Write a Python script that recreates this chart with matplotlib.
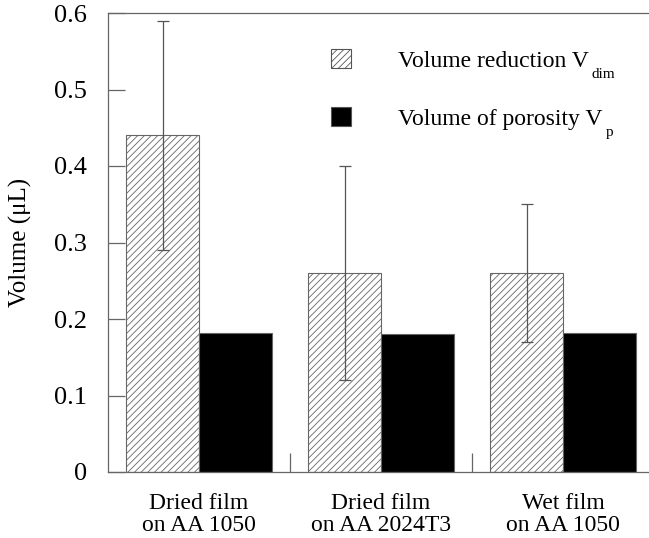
import numpy as np
import matplotlib
matplotlib.use('Agg')
import matplotlib.pyplot as plt
from matplotlib.patches import Patch

plt.rcParams['font.family'] = ['Liberation Serif', 'DejaVu Serif']
plt.rcParams['hatch.linewidth'] = 0.6
plt.rcParams['hatch.color'] = '#555555'

# --- data ---
categories = ['Dried film\non AA 1050', 'Dried film\non AA 2024T3', 'Wet film\non AA 1050']
v_dim = [0.44, 0.26, 0.26]
v_dim_err = [0.15, 0.14, 0.09]
v_p = [0.182, 0.181, 0.182]
y_ticks = [0, 0.1, 0.2, 0.3, 0.4, 0.5, 0.6]
y_ticklabels = ['0', '0.1', '0.2', '0.3', '0.4', '0.5', '0.6']
legend_main = ['Volume reduction V', 'Volume of porosity V']
legend_sub = ['dim', 'p']

fig = plt.figure(figsize=(6.49, 5.38), dpi=100)
# axes run slightly past the right edge of the picture, as in the reference
ax = fig.add_axes([108 / 649, 1 - 472 / 538, 546 / 649, 459 / 538])

x = np.arange(len(categories))
w = 0.4
spine_col = '#666666'

ax.bar(x - w / 2, v_dim, w, facecolor='white', edgecolor='#666666',
       hatch='/////', linewidth=0.8, zorder=2)
ax.bar(x + w / 2, v_p, w, facecolor='black', edgecolor='#666666',
       linewidth=0.8, zorder=2)
ax.errorbar(x - w / 2, v_dim, yerr=v_dim_err, fmt='none', ecolor='#555555',
            elinewidth=0.9, capsize=4, capthick=0.9, zorder=3)

ax.set_xlim(-0.5, 2.5)
ax.set_ylim(0, 0.6)
ax.set_yticks(y_ticks)
ax.set_yticklabels(y_ticklabels, fontsize=19)
ax.set_xticks(x)
ax.set_xticklabels(categories, fontsize=17, linespacing=1.05)
ax.set_xticks([0.5, 1.5], minor=True)
ax.tick_params(axis='x', which='major', length=0, pad=15)
ax.tick_params(axis='x', which='minor', direction='in', length=14,
               width=0.9, color=spine_col)
ax.tick_params(axis='y', direction='in', length=12, width=0.9,
               color=spine_col, pad=15)
ax.set_ylabel('Volume (\u03bcL)', fontsize=18, labelpad=16)

for s in ax.spines.values():
    s.set_color(spine_col)
    s.set_linewidth(0.9)

handles = [Patch(facecolor='white', edgecolor='#555555', hatch='/////', linewidth=0.8),
           Patch(facecolor='black', edgecolor='#555555', linewidth=0.8)]
leg = fig.legend(handles, legend_main, loc='upper left',
                 bbox_to_anchor=(331 / 649, 1 - 49 / 538),
                 frameon=False, fontsize=17, handlelength=0.85, handleheight=0.85,
                 handletextpad=2.0, labelspacing=1.5, borderpad=0, borderaxespad=0)
# subscripts sit low, below the baseline of the main text
fig.canvas.draw()
for t, sub in zip(leg.get_texts(), legend_sub):
    ax.annotate(sub, xy=(1, 0), xycoords=t, xytext=(2, -7),
                textcoords='offset points', fontsize=11, va='bottom', ha='left',
                annotation_clip=False)

fig.savefig('out.png', dpi=100)
